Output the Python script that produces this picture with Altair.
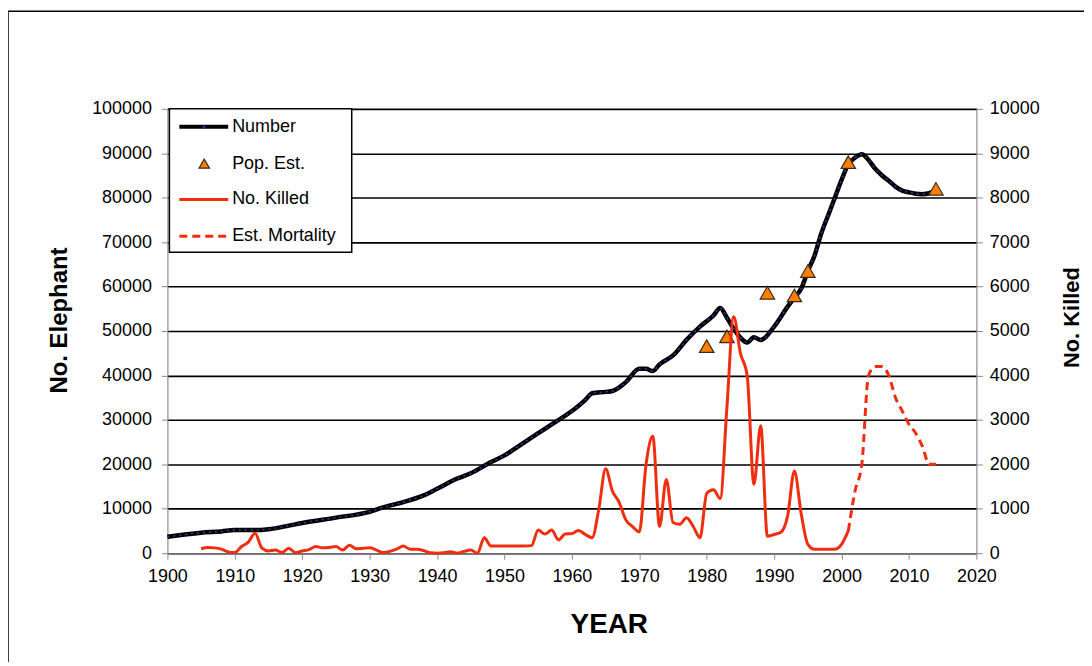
import altair as alt
import pandas as pd

# ---- data ----
num_years = [1900, 1902, 1905, 1908, 1910, 1913, 1915, 1918, 1920, 1925,
             1930, 1932, 1935, 1938, 1940, 1943, 1945, 1948, 1950, 1952,
             1955, 1957, 1960, 1961, 1962, 1963, 1965, 1966, 1968, 1970,
             1971, 1972, 1973, 1975, 1977, 1979, 1981, 1982, 1983, 1984,
             1985, 1986, 1987, 1988, 1990, 1992, 1993, 1994, 1995, 1996,
             1997, 1998, 1999, 2000, 2001, 2002, 2003, 2004, 2005, 2006,
             2007, 2008, 2009, 2010, 2011, 2012, 2013, 2014]
num_values = [3700, 4100, 4600, 4900, 5200, 5200, 5400, 6200, 6800, 8000,
              9300, 10300, 11500, 13000, 14500, 16800, 18000, 20500, 22000, 24000,
              27000, 29000, 32000, 33200, 34500, 36000, 36300, 36500, 38500, 41500,
              41500, 41000, 42500, 44500, 48000, 51000, 53500, 55200, 53000, 50500,
              48500, 47400, 48600, 48000, 51000, 55500, 57500, 59500, 63500, 67000,
              72000, 76000, 80000, 84000, 87500, 89000, 89800, 88500, 86500, 85000,
              83800, 82500, 81600, 81200, 80900, 80800, 81000, 81800]

est_years = [1980, 1983, 1989, 1993, 1995, 2001, 2014]
est_values = [46600, 48800, 58600, 58000, 63500, 88000, 82000]

killed_years = list(range(1905, 2002))
killed_values = [100, 130, 120, 90, 30, 15, 150, 250, 450, 120,
                 50, 70, 15, 110, 10, 50, 80, 150, 120, 130,
                 150, 70, 180, 100, 110, 120, 70, 15, 40, 90,
                 160, 90, 90, 60, 10, 0, 10, 30, 0, 40,
                 70, 0, 350, 160, 160, 160, 160, 160, 160, 170,
                 520, 430, 520, 300, 430, 440, 510, 420, 350, 1000,
                 1900, 1400, 1150, 750, 600, 480, 2000, 2630, 600, 1660,
                 690, 650, 800, 600, 350, 1350, 1430, 1230, 3300, 5320,
                 4500, 4000, 1550, 2870, 380, 420, 470, 840, 1850, 900,
                 200, 90, 90, 90, 90, 200, 500]

mort_years = list(range(2001, 2015))
mort_values = [500, 1400, 2000, 4000, 4200, 4200, 4000, 3500, 3200, 2900,
               2700, 2400, 2000, 2000]

num_df = pd.DataFrame({"year": num_years, "value": num_values})
est_df = pd.DataFrame({"year": est_years, "value": est_values})
killed_df = pd.DataFrame({"year": killed_years, "killed": killed_values})
mort_df = pd.DataFrame({"year": mort_years, "killed": mort_values})

FONT = "Liberation Sans"
RED = "#EE2E0E"
ORANGE = "#FF8000"
LFS = 18

X = alt.X("year:Q",
          scale=alt.Scale(domain=[1900, 2020], nice=False, zero=False),
          axis=alt.Axis(values=list(range(1900, 2021, 10)), format="d",
                        labelFont=FONT, labelFontSize=LFS, labelColor="black",
                        title="YEAR", titleFont=FONT, titleFontSize=28, titleFontWeight="bold",
                        titleColor="black",
                        titleX=443, titleY=58, titleBaseline="top", titleAlign="center",
                        labelPadding=8, tickSize=6, grid=False, labelFlush=False))

YL = alt.Y("value:Q",
           scale=alt.Scale(domain=[0, 100000], nice=False),
           axis=alt.Axis(orient="left", values=list(range(0, 100001, 10000)), format="d",
                         labelFont=FONT, labelFontSize=LFS, labelColor="black",
                         title="No. Elephant", titleFont=FONT, titleFontSize=24,
                         titleFontWeight="bold", titleColor="black",
                         titleAngle=270, titleX=-108, titleY=212,
                         titleAlign="center", titleBaseline="middle",
                         grid=True, gridColor="black", gridWidth=1.6,
                         tickSize=6, labelPadding=10))

YR = alt.Y("killed:Q",
           scale=alt.Scale(domain=[0, 10000], nice=False),
           axis=alt.Axis(orient="right", values=list(range(0, 10001, 1000)), format="d",
                         labelFont=FONT, labelFontSize=LFS, labelColor="black",
                         title="No. Killed", titleFont=FONT, titleFontSize=22,
                         titleFontWeight="bold", titleColor="black",
                         titleAngle=270, titleX=95, titleY=209,
                         titleAlign="center", titleBaseline="middle",
                         grid=False, tickSize=6, labelPadding=7))

one = pd.DataFrame({"a": [0]})

frame = alt.Chart(one).mark_rect(fillOpacity=0, stroke="black", strokeWidth=1.5).encode(
    x=alt.value(-160), x2=alt.value(1000), y=alt.value(-98), y2=alt.value(700))

num_black = alt.Chart(num_df).mark_line(color="black", strokeWidth=4.5, interpolate="monotone").encode(x=X, y=YL)
num_blue = alt.Chart(num_df).mark_line(color="#2A3FA0", strokeWidth=1.6, strokeDash=[2, 4],
                                       interpolate="monotone").encode(x=X, y=YL)
tri = alt.Chart(est_df).mark_point(shape="triangle-up", filled=True, fill=ORANGE, stroke="#3a2a1a",
                                   strokeWidth=1.2, size=210, opacity=1).encode(x=X, y=YL)
left = alt.layer(num_black, num_blue, tri)

killed = alt.Chart(killed_df).mark_line(color=RED, strokeWidth=3, interpolate="monotone").encode(x=X, y=YR)
mort = alt.Chart(mort_df).mark_line(color=RED, strokeWidth=3, strokeDash=[8, 5],
                                    interpolate="monotone").encode(x=X, y=YR)
right = alt.layer(killed, mort)

# ---- hand-made legend ----
leg_box = alt.Chart(one).mark_rect(fill="white", stroke="black", strokeWidth=1.5).encode(
    x=alt.value(2), x2=alt.value(185), y=alt.value(0), y2=alt.value(144))
rows = [18, 55, 91, 128]
leg_num = alt.Chart(one).mark_rule(color="black", strokeWidth=4).encode(
    x=alt.value(12), x2=alt.value(61), y=alt.value(rows[0]))
leg_num_dot = alt.Chart(one).mark_point(shape="circle", filled=True, color="#2A3FA0", size=6,
                                        opacity=1).encode(x=alt.value(37), y=alt.value(rows[0]))
leg_tri = alt.Chart(one).mark_point(shape="triangle-up", filled=True, fill=ORANGE, stroke="#3a2a1a",
                                    strokeWidth=1.2, size=110, opacity=1).encode(
    x=alt.value(37), y=alt.value(rows[1]))
leg_kill = alt.Chart(one).mark_rule(color=RED, strokeWidth=3).encode(
    x=alt.value(12), x2=alt.value(61), y=alt.value(rows[2]))
leg_mort = alt.Chart(one).mark_rule(color=RED, strokeWidth=3, strokeDash=[8, 5]).encode(
    x=alt.value(12), x2=alt.value(61), y=alt.value(rows[3]))
labels = ["Number", "Pop. Est.", "No. Killed", "Est. Mortality"]
leg_texts = [alt.Chart(one).mark_text(align="left", baseline="middle", font=FONT, fontSize=18,
                                      color="black").encode(
    x=alt.value(65), y=alt.value(r), text=alt.value(t)) for r, t in zip(rows, labels)]

chart = alt.layer(frame, left, right, leg_box, leg_num, leg_num_dot, leg_tri, leg_kill, leg_mort,
                  *leg_texts).resolve_scale(y="independent").properties(
    width=812, height=446,
    padding={"left": 160, "top": 100, "right": 108, "bottom": 108},
    autosize=alt.AutoSizeParams(type="none"),
).configure_view(stroke=None).configure_axis(
    domainColor="black", domainWidth=1.5, tickColor="black", tickWidth=1.5,
).configure(background="white")

chart.save("out.html", embed_options={"renderer": "svg", "actions": False})
